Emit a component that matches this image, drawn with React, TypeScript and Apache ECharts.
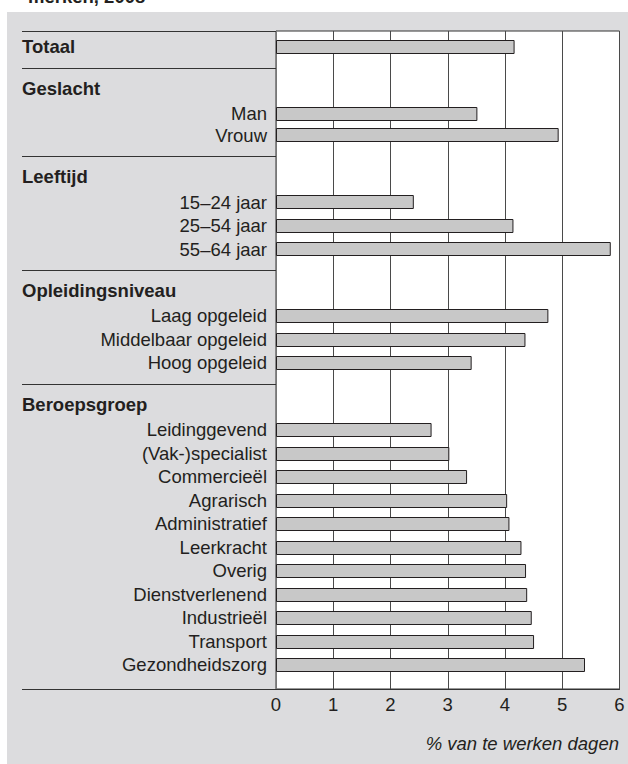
import { useEffect, useRef } from "react";
import * as echarts from "echarts";

const titleText = "merken, 2008";
const totalLabel = "Totaal";
const totalValue = 4.15;
const groupNames = ["Geslacht", "Leeftijd", "Opleidingsniveau", "Beroepsgroep"];
const geslachtLabels = ["Man", "Vrouw"];
const geslachtValues = [3.5, 4.92];
const leeftijdLabels = ["15–24 jaar", "25–54 jaar", "55–64 jaar"];
const leeftijdValues = [2.39, 4.13, 5.83];
const opleidingLabels = ["Laag opgeleid", "Middelbaar opgeleid", "Hoog opgeleid"];
const opleidingValues = [4.74, 4.34, 3.4];
const beroepLabels = [
  "Leidinggevend",
  "(Vak-)specialist",
  "Commercieël",
  "Agrarisch",
  "Administratief",
  "Leerkracht",
  "Overig",
  "Dienstverlenend",
  "Industrieël",
  "Transport",
  "Gezondheidszorg",
];
const beroepValues = [2.7, 3.01, 3.32, 4.02, 4.06, 4.27, 4.35, 4.37, 4.45, 4.49, 5.38];
const xTicks = [0, 1, 2, 3, 4, 5, 6];
const axisTitle = "% van te werken dagen";

type Row = { kind: "header" | "item" | "sep"; label: string; value: number | null; pos: number };

function buildRows(): Row[] {
  const groups = [
    { labels: geslachtLabels, values: geslachtValues },
    { labels: leeftijdLabels, values: leeftijdValues },
    { labels: opleidingLabels, values: opleidingValues },
    { labels: beroepLabels, values: beroepValues },
  ];
  const rows: Row[] = [];
  let pos = 0;
  rows.push({ kind: "header", label: totalLabel, value: totalValue, pos });
  groups.forEach((g, gi) => {
    rows.push({ kind: "sep", label: "", value: null, pos: pos + 0.9 });
    pos += 1.75;
    rows.push({ kind: "header", label: groupNames[gi], value: null, pos });
    g.labels.forEach((l, i) => {
      pos += i === 0 ? 1.1 : gi === 0 ? 0.9 : 1;
      rows.push({ kind: "item", label: l, value: g.values[i], pos });
    });
  });
  return rows;
}

const FONT = "'Liberation Sans', Arial, Helvetica, sans-serif";
const TEXT = "#231f20";
const LEFT = 22;

export default function App() {
  const ref = useRef<HTMLDivElement>(null);
  useEffect(() => {
    document.body.style.margin = "0";
    const chart = echarts.init(ref.current!, null, { renderer: "svg" });
    const rows = buildRows();
    const option: any = {
      animation: false,
      backgroundColor: "#ffffff",
      grid: {
        left: 276,
        right: 8.5,
        top: 31,
        bottom: 75,
        show: true,
        backgroundColor: "#ffffff",
        borderColor: "#333333",
        borderWidth: 1,
      },
      xAxis: {
        type: "value",
        min: xTicks[0],
        max: xTicks[xTicks.length - 1],
        interval: 1,
        axisLine: { show: true, onZero: false, lineStyle: { color: "#333", width: 1 } },
        axisTick: { show: false },
        axisLabel: {
          color: TEXT,
          fontSize: 18.5,
          fontFamily: FONT,
          margin: 6,
          formatter: (v: number) => (xTicks.includes(v) ? String(v) : ""),
        },
        splitLine: { show: true, lineStyle: { color: "#4a4a4a", width: 1 } },
      },
      yAxis: {
        type: "value",
        inverse: true,
        min: -0.68,
        max: 27.33,
        axisLine: { show: true, onZero: false, lineStyle: { color: "#777", width: 1 } },
        axisTick: { show: false },
        axisLabel: { show: false },
        splitLine: { show: false },
      },
      graphic: [
        {
          type: "rect",
          z: -10,
          silent: true,
          shape: { x: 7, y: 12, width: 621, height: 752 },
          style: { fill: "#dcdcde" },
        },
        {
          type: "text",
          z: -5,
          x: 28,
          y: 6,
          style: {
            text: titleText,
            font: `bold 18.5px ${FONT}`,
            fill: TEXT,
            textVerticalAlign: "bottom",
          },
        },
        {
          type: "line",
          z: 5,
          shape: { x1: LEFT, y1: 31.5, x2: 276, y2: 31.5 },
          style: { stroke: "#333", lineWidth: 1 },
        },
        {
          type: "line",
          z: 5,
          shape: { x1: LEFT, y1: 689.5, x2: 276, y2: 689.5 },
          style: { stroke: "#333", lineWidth: 1 },
        },
        {
          type: "text",
          x: 619,
          y: 743,
          style: {
            text: axisTitle,
            font: `italic 18.5px ${FONT}`,
            fill: TEXT,
            textAlign: "right",
            textVerticalAlign: "middle",
          },
        },
      ],
      series: [
        {
          type: "custom",
          clip: false,
          z: 10,
          data: rows.map((r) => [r.value == null ? 0 : r.value, r.pos]),
          encode: { x: 0, y: 1 },
          renderItem: (params: any, api: any) => {
            const row = rows[params.dataIndex];
            const y = api.value(1);
            const p0 = api.coord([0, y]);
            const children: any[] = [];
            if (row.kind === "sep") {
              const yy = Math.round(p0[1]) + 0.5;
              children.push({
                type: "line",
                shape: { x1: LEFT, y1: yy, x2: p0[0], y2: yy },
                style: { stroke: "#333", lineWidth: 1 },
              });
              return { type: "group", children };
            }
            if (row.value != null) {
              const p1 = api.coord([row.value, y]);
              const h = api.size([0, 1])[1] * 0.56;
              children.push({
                type: "rect",
                shape: {
                  x: Math.round(p0[0]) + 0.5,
                  y: Math.round(p0[1] - h / 2) + 0.5,
                  width: p1[0] - p0[0],
                  height: Math.round(h),
                },
                style: { fill: "#c8c8c8", stroke: "#231f20", lineWidth: 1 },
              });
            }
            if (row.kind === "header") {
              children.push({
                type: "text",
                x: LEFT,
                y: p0[1],
                style: {
                  text: row.label,
                  font: `bold 18.5px ${FONT}`,
                  fill: TEXT,
                  textAlign: "left",
                  textVerticalAlign: "middle",
                },
              });
            } else {
              children.push({
                type: "text",
                x: p0[0] - 9,
                y: p0[1],
                style: {
                  text: row.label,
                  font: `18.5px ${FONT}`,
                  fill: TEXT,
                  textAlign: "right",
                  textVerticalAlign: "middle",
                },
              });
            }
            return { type: "group", children };
          },
        },
      ],
    };
    chart.setOption(option);
    return () => chart.dispose();
  }, []);
  return (
    <div
      ref={ref}
      style={{ position: "absolute", left: 0, top: 0, width: 628, height: 764 }}
    />
  );
}
